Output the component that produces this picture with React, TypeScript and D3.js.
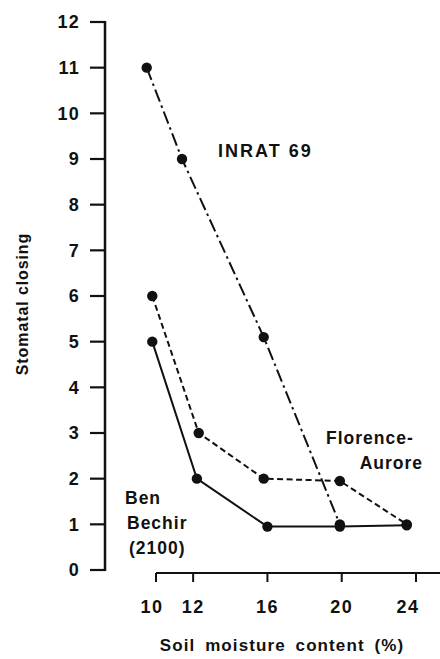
import React from "react";
import * as d3 from "d3";

const xTicks = [10, 12, 16, 20, 24];
const yTicks = [0, 1, 2, 3, 4, 5, 6, 7, 8, 9, 10, 11, 12];

const inratX = [9.5, 11.4, 15.8, 19.9];
const inratY = [11, 9, 5.1, 1];
const florenceX = [9.8, 12.3, 15.8, 19.9, 23.5];
const florenceY = [6, 3, 2, 1.95, 1];
const benX = [9.8, 12.2, 16, 19.9, 23.5];
const benY = [5, 2, 0.95, 0.95, 0.98];

const seriesList = [
  { name: "INRAT 69", xs: inratX, ys: inratY, dash: "13,4,2.5,4" },
  { name: "Florence-Aurore", xs: florenceX, ys: florenceY, dash: "6,3.5" },
  { name: "Ben Bechir (2100)", xs: benX, ys: benY, dash: "none" },
];

const FONT = "'Liberation Sans', Arial, Helvetica, sans-serif";

export default function App() {
  const x = d3.scaleLinear().domain([10, 24]).range([156, 416]);
  const y = d3.scaleLinear().domain([0, 12]).range([570, 22]);
  const line = d3
    .line<[number, number]>()
    .x((d) => x(d[0]))
    .y((d) => y(d[1]));

  const axisX = 105;
  const xAxisY = 573;

  return (
    <svg
      width={440}
      height={659}
      style={{ position: "absolute", left: 0, top: 0, background: "#fff" }}
      fontFamily={FONT}
    >
      <rect width={440} height={659} fill="#fff" />
      {/* y axis */}
      <line x1={axisX} x2={axisX} y1={y(12) - 1} y2={y(0) + 1} stroke="#111" strokeWidth={2.5} />
      {yTicks.map((t) => (
        <g key={t}>
          <line x1={axisX - 15} x2={axisX} y1={y(t)} y2={y(t)} stroke="#111" strokeWidth={2.2} />
          <text
            x={80}
            y={y(t)}
            dy="0.36em"
            textAnchor="end"
            fontSize={18}
            fontWeight="bold"
            letterSpacing={1.2}
            fill="#111"
          >
            {t}
          </text>
        </g>
      ))}
      <text
        transform={`translate(28,304) rotate(-90)`}
        textAnchor="middle"
        fontSize={16}
        fontWeight="bold"
        letterSpacing={0.9}
        fill="#111"
      >
        Stomatal closing
      </text>

      {/* x axis */}
      <line x1={x(10)} x2={440} y1={xAxisY} y2={xAxisY} stroke="#111" strokeWidth={2.2} />
      {xTicks.map((t) => (
        <g key={t}>
          <line x1={x(t)} x2={x(t)} y1={xAxisY} y2={xAxisY + 9} stroke="#111" strokeWidth={2} />
          <text
            x={x(t) - (t === 24 ? 8 : t === 10 ? 4 : 0)}
            y={613}
            textAnchor="middle"
            fontSize={18}
            fontWeight="bold"
            letterSpacing={1.5}
            fill="#111"
          >
            {t}
          </text>
        </g>
      ))}
      <text
        x={282}
        y={651}
        textAnchor="middle"
        fontSize={17}
        fontWeight="bold"
        letterSpacing={1.1}
        wordSpacing={4}
        fill="#111"
      >
        Soil moisture content (%)
      </text>

      {/* series */}
      {seriesList.map((s) => {
        const pts = s.xs.map((v, i) => [v, s.ys[i]] as [number, number]);
        return (
          <g key={s.name}>
            <path
              d={line(pts) || ""}
              fill="none"
              stroke="#111"
              strokeWidth={2}
              strokeDasharray={s.dash}
            />
            {pts.map((p, i) => (
              <circle key={i} cx={x(p[0])} cy={y(p[1])} r={5.2} fill="#111" />
            ))}
          </g>
        );
      })}

      {/* labels */}
      <g fontSize={17.5} fontWeight="bold" fill="#111" letterSpacing={1}>
        <text x={218} y={157} fontSize={18} letterSpacing={2}>INRAT 69</text>
        <text x={326} y={444}>Florence-</text>
        <text x={423} y={469} textAnchor="end">Aurore</text>
        <text x={125} y={504}>Ben</text>
        <text x={127} y={529}>Bechir</text>
        <text x={129} y={554}>(2100)</text>
      </g>
    </svg>
  );
}
